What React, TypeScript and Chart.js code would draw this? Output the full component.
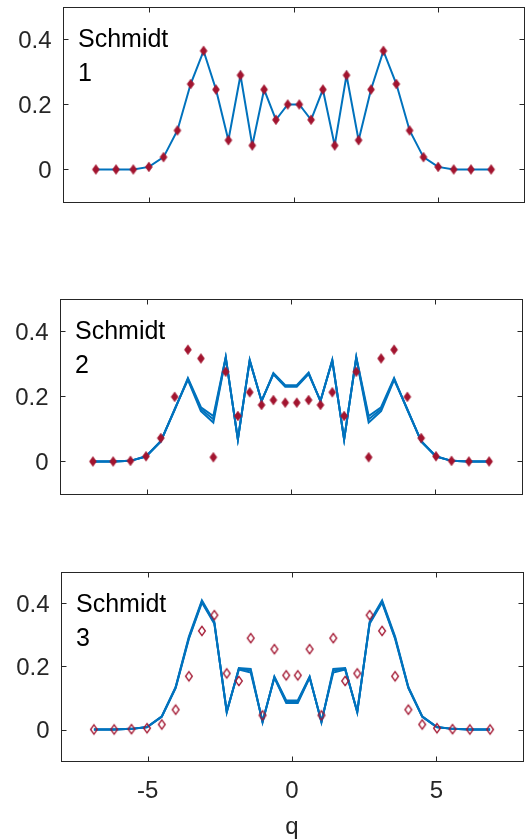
import React, { useEffect, useRef } from "react";
import { Chart, registerables } from "chart.js";

Chart.register(...registerables);

// ---- data ----
const Q = [-6.86, -6.16, -5.56, -5.02, -4.51, -4.03, -3.57, -3.12, -2.69, -2.26, -1.84, -1.43, -1.02, -0.61, -0.2,
  0.2, 0.61, 1.02, 1.43, 1.84, 2.26, 2.69, 3.12, 3.57, 4.03, 4.51, 5.02, 5.56, 6.16, 6.86];

const SCHMIDT_1_MARKERS = [0, 0, 0, 0.008, 0.038, 0.12, 0.263, 0.365, 0.246, 0.09, 0.29, 0.074, 0.246, 0.153, 0.2,
  0.2, 0.153, 0.246, 0.074, 0.29, 0.09, 0.246, 0.365, 0.263, 0.12, 0.038, 0.008, 0, 0, 0];
const SCHMIDT_1_LINE = [0, 0, 0, 0.008, 0.038, 0.12, 0.263, 0.365, 0.246, 0.09, 0.29, 0.074, 0.246, 0.153, 0.2,
  0.2, 0.153, 0.246, 0.074, 0.29, 0.09, 0.246, 0.365, 0.263, 0.12, 0.038, 0.008, 0, 0, 0];

const SCHMIDT_2_MARKERS = [0, 0, 0.002, 0.016, 0.072, 0.199, 0.344, 0.317, 0.013, 0.276, 0.14, 0.213, 0.174, 0.189, 0.181,
  0.181, 0.189, 0.174, 0.213, 0.14, 0.276, 0.013, 0.317, 0.344, 0.199, 0.072, 0.016, 0.002, 0, 0];
const SCHMIDT_2_LINE_A = [0, 0, 0.002, 0.016, 0.063, 0.158, 0.257, 0.167, 0.14, 0.322, 0.067, 0.313, 0.185, 0.272, 0.235,
  0.235, 0.274, 0.185, 0.313, 0.067, 0.322, 0.14, 0.167, 0.257, 0.158, 0.063, 0.016, 0.002, 0, 0];
const SCHMIDT_2_LINE_B = [0, 0, 0.002, 0.016, 0.062, 0.16, 0.254, 0.161, 0.13, 0.32, 0.068, 0.311, 0.186, 0.27, 0.232,
  0.232, 0.271, 0.186, 0.311, 0.068, 0.32, 0.13, 0.161, 0.254, 0.16, 0.062, 0.016, 0.002, 0, 0];
const SCHMIDT_2_LINE_C = [0, 0, 0.002, 0.015, 0.061, 0.161, 0.251, 0.155, 0.12, 0.318, 0.069, 0.309, 0.187, 0.268, 0.23,
  0.23, 0.269, 0.187, 0.309, 0.069, 0.318, 0.12, 0.155, 0.251, 0.161, 0.061, 0.015, 0.002, 0, 0];

const SCHMIDT_3_MARKERS = [0, 0, 0.001, 0.004, 0.016, 0.063, 0.169, 0.313, 0.363, 0.178, 0.154, 0.29, 0.045, 0.255, 0.172,
  0.172, 0.255, 0.045, 0.29, 0.154, 0.178, 0.363, 0.313, 0.169, 0.063, 0.016, 0.004, 0.001, 0, 0];
const SCHMIDT_3_LINE_A = [0, 0, 0.002, 0.008, 0.042, 0.135, 0.295, 0.41, 0.342, 0.054, 0.195, 0.192, 0.022, 0.168, 0.092,
  0.092, 0.168, 0.022, 0.192, 0.195, 0.054, 0.342, 0.41, 0.295, 0.135, 0.042, 0.008, 0.002, 0, 0];
const SCHMIDT_3_LINE_B = [0, 0, 0.002, 0.008, 0.041, 0.133, 0.291, 0.406, 0.339, 0.056, 0.193, 0.187, 0.024, 0.166, 0.088,
  0.088, 0.166, 0.024, 0.187, 0.193, 0.056, 0.339, 0.406, 0.291, 0.133, 0.041, 0.008, 0.002, 0, 0];
const SCHMIDT_3_LINE_C = [0, 0, 0.002, 0.007, 0.04, 0.131, 0.288, 0.403, 0.336, 0.058, 0.19, 0.181, 0.026, 0.164, 0.084,
  0.084, 0.164, 0.026, 0.181, 0.19, 0.058, 0.336, 0.403, 0.288, 0.131, 0.04, 0.007, 0.002, 0, 0];

const X_TICKS = [-5, 0, 5];
const Y_TICKS = [0, 0.2, 0.4];
const X_LABEL = "q";
const PANEL_TITLE = "Schmidt";
const PANEL_NUMBERS = ["1", "2", "3"];

// ---- style ----
const BLUE = "#0072BD";
const RED = "#A2142F";
const AX = "#262626";
const FONT = "'Liberation Sans', Arial, Helvetica, sans-serif";

type PanelSpec = {
  top: number; height: number; left: number; padRight: number; padTop: number; xHeight: number;
  markers: number[]; filled: boolean; lines: number[][]; num: string; showX: boolean;
};

const PANELS: PanelSpec[] = [
  { top: 0, height: 215, left: 63, padRight: 3, padTop: 7, xHeight: 13,
    markers: SCHMIDT_1_MARKERS, filled: true, lines: [SCHMIDT_1_LINE], num: PANEL_NUMBERS[0], showX: false },
  { top: 290, height: 215, left: 60, padRight: 5, padTop: 9, xHeight: 11,
    markers: SCHMIDT_2_MARKERS, filled: true, lines: [SCHMIDT_2_LINE_A, SCHMIDT_2_LINE_B, SCHMIDT_2_LINE_C], num: PANEL_NUMBERS[1], showX: false },
  { top: 560, height: 280, left: 61, padRight: 4, padTop: 12, xHeight: 79,
    markers: SCHMIDT_3_MARKERS, filled: false, lines: [SCHMIDT_3_LINE_A, SCHMIDT_3_LINE_B, SCHMIDT_3_LINE_C], num: PANEL_NUMBERS[2], showX: true },
];

function makeDiamond(filled: boolean): HTMLCanvasElement {
  const c = document.createElement("canvas");
  c.width = 12;
  c.height = 14;
  const g = c.getContext("2d")!;
  g.beginPath();
  g.moveTo(6, 2.3);
  g.lineTo(9.4, 7);
  g.lineTo(6, 11.7);
  g.lineTo(2.6, 7);
  g.closePath();
  if (filled) {
    g.fillStyle = RED;
    g.fill();
    g.strokeStyle = RED;
    g.lineWidth = 0.8;
    g.stroke();
  } else {
    g.strokeStyle = RED;
    g.lineWidth = 1.3;
    g.stroke();
  }
  return c;
}

const framePlugin = {
  id: "frame",
  afterDraw(chart: any, _args: any, opts: any) {
    const { ctx, chartArea: a, scales } = chart;
    ctx.save();
    ctx.strokeStyle = AX;
    ctx.lineWidth = 1;
    const L = Math.round(a.left) + 0.5;
    const R = Math.round(a.right) + 0.5;
    const T = Math.round(a.top) + 0.5;
    const B = Math.round(a.bottom) + 0.5;
    ctx.strokeRect(L, T, R - L, B - T);
    const tl = 5;
    ctx.beginPath();
    for (const v of Y_TICKS) {
      const py = Math.round(scales.y.getPixelForValue(v)) + 0.5;
      ctx.moveTo(L, py); ctx.lineTo(L + tl, py);
      ctx.moveTo(R, py); ctx.lineTo(R - tl, py);
    }
    for (const v of X_TICKS) {
      const px = Math.round(scales.x.getPixelForValue(v)) + 0.5;
      ctx.moveTo(px, T); ctx.lineTo(px, T + tl);
      ctx.moveTo(px, B); ctx.lineTo(px, B - tl);
    }
    ctx.stroke();
    ctx.fillStyle = "#000";
    ctx.font = `25px ${FONT}`;
    ctx.textAlign = "left";
    ctx.textBaseline = "alphabetic";
    ctx.fillText(PANEL_TITLE, a.left + 15, a.top + 40);
    ctx.fillText(opts.num, a.left + 15, a.top + 74);
    ctx.restore();
  },
};

function buildConfig(p: PanelSpec): any {
  const pts = (ys: number[]) => Q.map((x, i) => ({ x, y: ys[i] }));
  const marker = makeDiamond(p.filled);
  const datasets: any[] = [
    {
      data: pts(p.markers),
      showLine: false,
      pointStyle: marker,
      pointRadius: 4,
      pointHoverRadius: 4,
      borderColor: RED,
      backgroundColor: RED,
    },
    ...p.lines.map((l) => ({
      data: pts(l),
      showLine: true,
      borderColor: BLUE,
      backgroundColor: BLUE,
      borderWidth: 2,
      pointRadius: 0,
      pointHoverRadius: 0,
      tension: 0,
      fill: false,
    })),
  ];
  const tickFont = { family: FONT, size: 24 };
  return {
    type: "scatter",
    data: { datasets },
    plugins: [framePlugin],
    options: {
      animation: false,
      responsive: false,
      events: [],
      layout: { autoPadding: false, padding: { left: 0, right: p.padRight, top: p.padTop, bottom: 0 } },
      plugins: { legend: { display: false }, tooltip: { enabled: false }, frame: { num: p.num } },
      scales: {
        x: {
          type: "linear",
          min: -8,
          max: 8,
          afterBuildTicks: (s: any) => { s.ticks = X_TICKS.map((v) => ({ value: v })); },
          afterFit: (s: any) => {
            s.height = p.xHeight;
            s.paddingLeft = 0; s.paddingRight = 0; s.paddingTop = 0; s.paddingBottom = 0;
          },
          ticks: {
            display: p.showX,
            font: tickFont,
            color: AX,
            padding: 15.5,
            maxRotation: 0,
            autoSkip: false,
            callback: (v: any) => String(v),
          },
          grid: { display: false, drawTicks: false },
          border: { display: false },
          title: {
            display: p.showX,
            text: X_LABEL,
            color: AX,
            font: { family: FONT, size: 24, lineHeight: 1 },
            padding: { top: 0, bottom: 0.5 },
          },
        },
        y: {
          type: "linear",
          min: -0.1,
          max: 0.5,
          afterBuildTicks: (s: any) => { s.ticks = Y_TICKS.map((v) => ({ value: v })); },
          afterFit: (s: any) => {
            s.width = p.left;
            s.paddingLeft = 0; s.paddingRight = 0; s.paddingTop = 0; s.paddingBottom = 0;
          },
          ticks: {
            font: tickFont,
            color: AX,
            padding: 11.5,
            labelOffset: 2,
            callback: (v: any) => String(v),
          },
          grid: { display: false, drawTicks: false },
          border: { display: false },
        },
      },
    },
  };
}

export default function App() {
  const refs = [useRef<HTMLCanvasElement>(null), useRef<HTMLCanvasElement>(null), useRef<HTMLCanvasElement>(null)];
  useEffect(() => {
    const charts = PANELS.map((p, i) => new Chart(refs[i].current as HTMLCanvasElement, buildConfig(p)));
    return () => charts.forEach((c) => c.destroy());
  }, []);
  return (
    <div style={{ position: "absolute", left: 0, top: 0, width: 527, height: 840, overflow: "hidden", background: "#fff" }}>
      {PANELS.map((p, i) => (
        <canvas
          key={i}
          ref={refs[i]}
          width={527}
          height={p.height}
          style={{ position: "absolute", left: 0, top: p.top, width: 527, height: p.height }}
        />
      ))}
    </div>
  );
}
